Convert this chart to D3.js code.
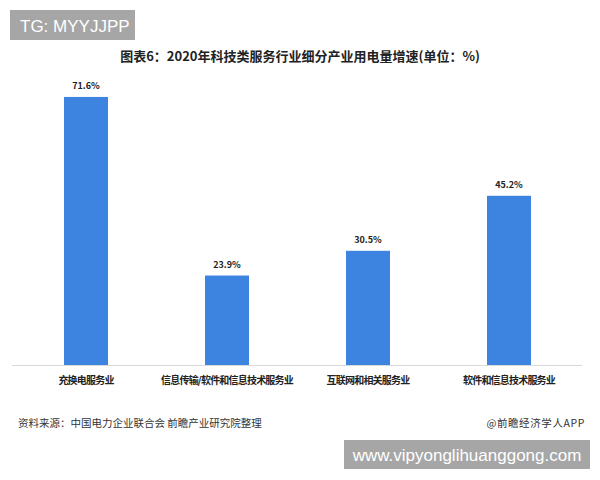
<!DOCTYPE html>
<html>
<head>
<meta charset="utf-8">
<script src="https://d3js.org/d3.v7.min.js"></script>
<style>
html,body{margin:0;padding:0;background:#fff;}
svg{display:block;}
</style>
</head>
<body>
<svg id="chart" width="600" height="480"></svg>
<script>
const categories = ["充换电服务业", "信息传输/软件和信息技术服务业", "互联网和相关服务业", "软件和信息技术服务业"];
const values = [71.6, 23.9, 30.5, 45.2];
const valueLabels = ["71.6%", "23.9%", "30.5%", "45.2%"];
const title = "图表6：2020年科技类服务行业细分产业用电量增速(单位：%)";
const source = "资料来源：中国电力企业联合会 前瞻产业研究院整理";
const credit = "@前瞻经济学人APP";

const svg = d3.select("#chart");
const font = "'Noto Sans CJK SC', 'Noto Sans', sans-serif";

const x = d3.scaleBand().domain(categories).range([15.5, 579.5]).paddingInner(0.688).paddingOuter(0.344);
const y = d3.scaleLinear().domain([0, 80]).range([365, 65.5]);

// baseline
svg.append("line").attr("x1", 12).attr("x2", 582).attr("y1", 365.5).attr("y2", 365.5)
  .attr("stroke", "#d9d9d9").attr("stroke-width", 1);

// bars
svg.selectAll("rect.bar").data(values).join("rect").attr("class", "bar")
  .attr("x", (d, i) => x(categories[i]))
  .attr("y", d => y(d))
  .attr("width", x.bandwidth())
  .attr("height", d => y(0) - y(d))
  .attr("fill", "#3d84e0");

// value labels
svg.selectAll("text.val").data(values).join("text").attr("class", "val")
  .attr("x", (d, i) => x(categories[i]) + x.bandwidth() / 2)
  .attr("y", d => y(d) - 8)
  .attr("text-anchor", "middle")
  .attr("font-family", font).attr("font-size", 9).attr("font-weight", "bold")
  .attr("fill", "#222")
  .text((d, i) => valueLabels[i]);

// category labels via axis
const axis = svg.append("g").attr("transform", "translate(0,365)")
  .call(d3.axisBottom(x).tickSize(0).tickPadding(12));
axis.select(".domain").remove();
axis.selectAll("text").attr("font-family", font).attr("font-size", 10)
  .attr("letter-spacing", "-0.8px")
  .attr("font-weight", "bold").attr("fill", "#222");

// title
svg.append("text").attr("x", 300).attr("y", 61).attr("text-anchor", "middle")
  .attr("font-family", font).attr("font-size", 13).attr("font-weight", "bold")
  .attr("fill", "#222").text(title);

// source & credit
svg.append("text").attr("x", 18).attr("y", 427)
  .attr("font-family", font).attr("font-size", 10.5).attr("fill", "#333").text(source);
svg.append("text").attr("x", 585).attr("y", 427).attr("text-anchor", "end")
  .attr("font-family", font).attr("font-size", 10.5).attr("letter-spacing", "0.6px")
  .attr("fill", "#333").text(credit);

// badges
svg.append("rect").attr("x", 10).attr("y", 10).attr("width", 125).attr("height", 30).attr("fill", "#a6a6a6");
svg.append("text").attr("x", 20).attr("y", 31.5).attr("font-family", "'Liberation Sans', Arial, sans-serif")
  .attr("font-size", 17).attr("fill", "#fff").text("TG: MYYJJPP");

svg.append("rect").attr("x", 344).attr("y", 440).attr("width", 246).attr("height", 29).attr("fill", "#a6a6a6");
svg.append("text").attr("x", 467).attr("y", 461).attr("text-anchor", "middle")
  .attr("font-family", "'Liberation Sans', Arial, sans-serif")
  .attr("font-size", 17).attr("fill", "#fff").text("www.vipyonglihuanggong.com");
</script>
</body>
</html>
